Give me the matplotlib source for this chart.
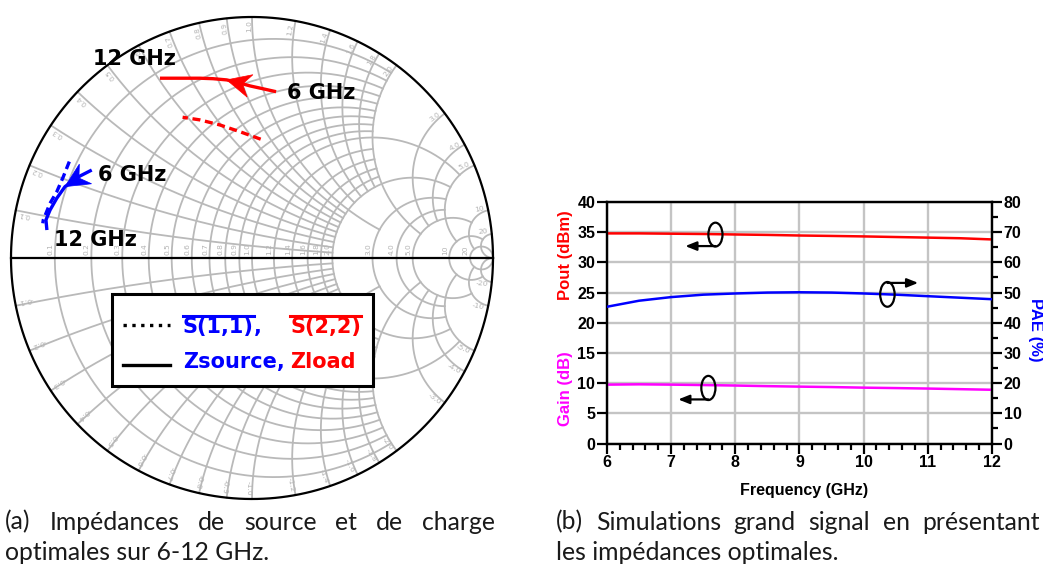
import numpy as np
import matplotlib
matplotlib.use('Agg')
import matplotlib.pyplot as plt
from matplotlib.patches import Ellipse, Rectangle, Polygon
from matplotlib.lines import Line2D
from matplotlib.ticker import MultipleLocator

# ---------------- data ----------------
# (a) optimum impedances as reflection coefficients (real, imag), 6 GHz -> 12 GHz
zload_re = [0.100, 0.042, -0.008, -0.058, -0.105, -0.162, -0.216, -0.299, -0.382]
zload_im = [0.690, 0.703, 0.714, 0.728, 0.739, 0.744, 0.746, 0.746, 0.746]
s22_re = [0.036, -0.050, -0.133, -0.216, -0.288]
s22_im = [0.493, 0.524, 0.552, 0.573, 0.584]
zsource_re = [-0.665, -0.714, -0.776, -0.810, -0.838, -0.855, -0.851]
zsource_im = [0.365, 0.340, 0.296, 0.248, 0.199, 0.158, 0.116]
s11_re = [-0.758, -0.783, -0.810, -0.838, -0.866, -0.868]
s11_im = [0.400, 0.337, 0.275, 0.227, 0.158, 0.144]

# (b) large signal simulation
freq_ghz = [6.0, 6.5, 7.0, 7.5, 8.0, 8.5, 9.0, 9.5, 10.0, 10.5, 11.0, 11.5, 12.0]
pout_dbm = [34.8, 34.8, 34.75, 34.7, 34.62, 34.55, 34.45, 34.38, 34.3, 34.2, 34.1, 34.0, 33.8]
gain_db = [9.75, 9.8, 9.75, 9.68, 9.6, 9.5, 9.42, 9.35, 9.25, 9.18, 9.1, 9.0, 8.9]
pae_pct = [45.3, 47.3, 48.5, 49.3, 49.7, 50.0, 50.1, 50.0, 49.7, 49.3, 48.8, 48.3, 47.8]
x_ticks = [6, 7, 8, 9, 10, 11, 12]
left_ticks = [0, 5, 10, 15, 20, 25, 30, 35, 40]
right_ticks = [0, 10, 20, 30, 40, 50, 60, 70, 80]

# smith grid values (resistance circles and reactance arcs)
smith_ticks = [0.1, 0.2, 0.3, 0.4, 0.5, 0.6, 0.7, 0.8, 0.9, 1.0,
               1.2, 1.4, 1.6, 1.8, 2.0, 3.0, 4.0, 5.0, 10.0, 20.0]

caption_a = ["(a) Impédances de source et de charge", "optimales sur 6-12 GHz."]
caption_b = ["(b) Simulations grand signal en présentant", "les impédances optimales."]

W, H = 1043, 568
fig = plt.figure(figsize=(W / 100, H / 100), dpi=100)
renderer = fig.canvas.get_renderer()

# ---------------- (a) smith chart ----------------
SC_X, SC_Y, SC_R = 252, 258, 241   # circle centre / radius in pixels
pad = 0.03
ax_s = fig.add_axes([(SC_X - SC_R * (1 + pad)) / W, 1 - (SC_Y + SC_R * (1 + pad)) / H,
                     2 * SC_R * (1 + pad) / W, 2 * SC_R * (1 + pad) / H])
ax_s.set_xlim(-1 - pad, 1 + pad)
ax_s.set_ylim(-1 - pad, 1 + pad)
ax_s.axis('off')


def to_gamma(px, py):
    return (px - SC_X) / SC_R, (SC_Y - py) / SC_R


def gamma(z):
    return (z - 1) / (z + 1)


def grid_limit(v, kind):
    # "fancy" grid: fine lines stop where they would get too dense
    if v < 2.0:
        if v == 1.0:
            return 3.0 if kind == 'x' else 5.0
        return 2.0
    if v < 5.0:
        return 5.0
    if v == 5.0:
        return 10.0
    if v == 10.0:
        return 20.0
    return np.inf


grid_kw = dict(color='#b9b9b9', lw=1.3, zorder=1)
for v in smith_ticks:
    # resistance circle
    xm = grid_limit(v, 'r')
    if np.isinf(xm):
        t = np.linspace(0, 2 * np.pi, 400)
        ax_s.plot(v / (1 + v) + np.cos(t) / (1 + v), np.sin(t) / (1 + v), **grid_kw)
    else:
        xs = np.linspace(-xm, xm, 800)
        g = gamma(v + 1j * xs)
        ax_s.plot(g.real, g.imag, **grid_kw)
    # reactance arcs
    rm = grid_limit(v, 'x')
    umax = 0.9999 if np.isinf(rm) else rm / (1 + rm)
    u = np.linspace(0, umax, 600)
    rs = u / (1 - u)
    for s in (1, -1):
        g = gamma(rs + 1j * s * v)
        ax_s.plot(g.real, g.imag, **grid_kw)

# outer circle and real axis
t = np.linspace(0, 2 * np.pi, 500)
ax_s.plot(np.cos(t), np.sin(t), color='black', lw=1.6, zorder=3)
ax_s.plot([-1, 1], [0, 0], color='black', lw=1.6, zorder=3)

# grid labels
lab_kw = dict(color='#b4b4b4', fontsize=5.4, rotation_mode='anchor', zorder=2)
for v in smith_ticks:
    s = '%g' % v if v >= 10 else '%.1f' % v
    ax_s.text((v - 1) / (v + 1) - 0.006, 0.012, s, rotation=90, ha='left', va='bottom', **lab_kw)
    th = np.arctan2(2 * v, v * v - 1)
    ax_s.text(0.985 * np.cos(th), 0.985 * np.sin(th), s, rotation=np.degrees(th),
              ha='right', va='bottom', **lab_kw)
    ax_s.text(0.985 * np.cos(th), -0.985 * np.sin(th), '-' + s, rotation=-np.degrees(th),
              ha='right', va='top', **lab_kw)

# curves
ax_s.plot(zload_re, zload_im, color='red', lw=2.4, zorder=4, solid_capstyle='butt')
ax_s.plot(s22_re, s22_im, color='red', lw=2.4, dashes=(2.4, 1.4), zorder=4)
ax_s.plot(s11_re, s11_im, color='blue', lw=2.4, dashes=(2.4, 1.4), zorder=4)
ax_s.plot(zsource_re, zsource_im, color='blue', lw=2.4, zorder=4, solid_capstyle='butt')


def arrow_head(ax, tip, tail, color, length=0.1, width=0.048):
    tip = np.asarray(tip, float)
    d = tip - np.asarray(tail, float)
    d /= np.hypot(*d)
    n = np.array([-d[1], d[0]])
    base = tip - d * length
    pts = [tip, base + n * width, tip - d * length * 0.68, base - n * width]
    ax.add_patch(Polygon(pts, closed=True, facecolor=color, edgecolor=color, lw=0.5, zorder=5))


arrow_head(ax_s, (zload_re[4], zload_im[4]), (zload_re[2], zload_im[2]), 'red')
arrow_head(ax_s, (zsource_re[2], zsource_im[2]), (zsource_re[0], zsource_im[0]), 'blue',
           length=0.1, width=0.048)

txt_kw = dict(fontsize=15, fontweight='bold', color='black', zorder=6)
ax_s.text(*to_gamma(134, 59), '12 GHz', ha='center', va='center', **txt_kw)
ax_s.text(*to_gamma(321, 93), '6 GHz', ha='center', va='center', **txt_kw)
ax_s.text(*to_gamma(132.5, 175), '6 GHz', ha='center', va='center', **txt_kw)
ax_s.text(*to_gamma(95, 240), '12 GHz', ha='center', va='center', **txt_kw)

# legend box
bx0, by0 = to_gamma(111.7, 386)
ax_s.add_patch(Rectangle((bx0, by0), (372.7 - 111.7) / SC_R, (386 - 294) / SC_R,
                         facecolor='white', edgecolor='black', lw=2.2, zorder=7))
for py, ls in ((325, ':'), (365, '-')):
    (lx0, ly), (lx1, _) = to_gamma(123, py), to_gamma(170, py)
    ax_s.plot([lx0, lx1], [ly, ly], color='black', lw=2.4, ls=ls, zorder=8)

leg_kw = dict(fontsize=15, fontweight='bold', va='center', ha='left', zorder=8)
t_s11 = ax_s.text(*to_gamma(183, 327), 'S(1,1)', color='blue', **leg_kw)
ax_s.annotate(',', xy=(1, 0), xycoords=t_s11, va='bottom', ha='left', color='blue',
              fontsize=15, fontweight='bold', zorder=8)
t_s22 = ax_s.text(*to_gamma(290, 327), 'S(2,2)', color='red', **leg_kw)
ax_s.text(*to_gamma(183, 362), 'Zsource,', color='blue', **leg_kw)
ax_s.text(*to_gamma(290, 362), 'Zload', color='red', **leg_kw)
for tt, col in ((t_s11, 'blue'), (t_s22, 'red')):
    bb = tt.get_window_extent(renderer)
    yy = (bb.y1 + 1.5) / H
    fig.add_artist(Line2D([bb.x0 / W, bb.x1 / W], [yy, yy], color=col, lw=2.2, zorder=9))

# ---------------- (b) large signal ----------------
tick_font = dict(fontfamily='Liberation Sans', fontweight='bold', fontsize=11.5)
ax1 = fig.add_axes([607 / W, 1 - 443.5 / H, 385 / W, 241.5 / H])
ax2 = ax1.twinx()
ax1.plot(freq_ghz, pout_dbm, color='#ff0000', lw=1.8, zorder=3)
ax1.plot(freq_ghz, gain_db, color='#ff00ff', lw=1.8, zorder=3)
ax2.plot(freq_ghz, pae_pct, color='#0000ff', lw=1.8, zorder=3)

ax1.set_xlim(6, 12)
ax1.set_ylim(0, 40)
ax2.set_ylim(0, 80)
ax1.set_xticks(x_ticks, labels=[str(v) for v in x_ticks], **tick_font)
ax1.set_yticks(left_ticks, labels=[str(v) for v in left_ticks], **tick_font)
ax2.set_yticks(right_ticks, labels=[str(v) for v in right_ticks], **tick_font)
ax1.xaxis.set_minor_locator(MultipleLocator(0.2))
ax2.yaxis.set_minor_locator(MultipleLocator(5))
ax1.grid(True, which='major', color='#c4c4c4', lw=1.7, zorder=0)
ax1.set_axisbelow(True)

for a in (ax1, ax2):
    for sp in a.spines.values():
        sp.set_linewidth(1.6)
    a.tick_params(which='major', direction='out', length=7, width=1.6, pad=1.5)
    a.tick_params(which='minor', direction='out', length=4.5, width=1.6)

lab2 = dict(fontfamily='Liberation Sans', fontweight='bold', fontsize=12, ha='center', va='center')
fig.text(565.5 / W, 1 - 255 / H, 'Pout (dBm)', rotation=90, color='#ff0000', **lab2)
fig.text(565.5 / W, 1 - 389 / H, 'Gain (dB)', rotation=90, color='#ff00ff', **lab2)
fig.text(1035.5 / W, 1 - 330 / H, 'PAE (%)', rotation=-90, color='#0000ff', **lab2)
fig.text(804 / W, 1 - 490 / H, 'Frequency (GHz)', color='black',
         **dict(lab2, fontsize=11.5))

# ellipse markers with arrows
ell_kw = dict(fill=False, edgecolor='black', lw=1.6, zorder=6)
arr = dict(arrowstyle='-|>,head_length=0.55,head_width=0.22', color='black', lw=1.6,
           shrinkA=0, shrinkB=0, mutation_scale=12)
ax1.add_patch(Ellipse((7.69, 34.6), 0.22, 3.95, **ell_kw))
ax1.annotate('', xy=(7.22, 32.7), xytext=(7.69, 32.7), arrowprops=arr, zorder=6)
ax1.add_patch(Ellipse((7.58, 9.2), 0.22, 4.0, **ell_kw))
ax1.annotate('', xy=(7.11, 7.3), xytext=(7.58, 7.3), arrowprops=arr, zorder=6)
ax2.add_patch(Ellipse((10.37, 49.4), 0.225, 8.2, **ell_kw))
ax2.annotate('', xy=(10.85, 53.2), xytext=(10.37, 53.2), arrowprops=arr, zorder=6)

# ---------------- captions ----------------
cap_kw = dict(fontfamily='Lato', fontsize=17.8, color='#1a1a1a', va='center', ha='left')


def justified(line, x0, x1, y):
    words = line.split()
    arts = [fig.text(0, 1 - y / H, w, **cap_kw) for w in words]
    widths = [a.get_window_extent(renderer).width for a in arts]
    gap = (x1 - x0 - sum(widths)) / (len(words) - 1)
    x = x0
    for a, w in zip(arts, widths):
        a.set_x(x / W)
        x += w + gap


justified(caption_a[0], 5, 495, 522)
fig.text(5 / W, 1 - 553 / H, caption_a[1], **cap_kw)
justified(caption_b[0], 556, 1040, 522)
fig.text(556 / W, 1 - 553 / H, caption_b[1], **cap_kw)

fig.savefig('out.png', dpi=100)
